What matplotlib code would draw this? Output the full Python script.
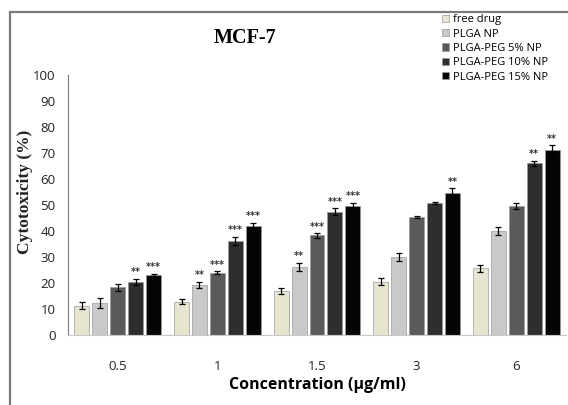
import numpy as np
import matplotlib
matplotlib.use('Agg')
import matplotlib.pyplot as plt
from matplotlib.patches import Rectangle

# data
concentrations = ['0.5', '1', '1.5', '3', '6']
series = ['free drug', 'PLGA NP', 'PLGA-PEG 5% NP', 'PLGA-PEG 10% NP', 'PLGA-PEG 15% NP']
free_drug = [11.3, 12.8, 16.9, 20.5, 25.6]
plga = [12.3, 19.2, 26.3, 29.9, 40.0]
peg5 = [18.3, 24.0, 38.3, 45.3, 49.5]
peg10 = [20.5, 36.3, 47.5, 50.7, 66.0]
peg15 = [23.0, 42.0, 49.8, 54.6, 71.0]
free_err = [1.4, 1.0, 1.2, 1.3, 1.3]
plga_err = [2.0, 1.3, 1.5, 1.5, 1.7]
peg5_err = [1.5, 0.5, 0.8, 0.3, 1.2]
peg10_err = [1.2, 1.5, 1.3, 0.4, 0.9]
peg15_err = [0.5, 1.2, 1.0, 1.8, 2.0]
free_sig = ['', '', '', '', '']
plga_sig = ['', '**', '**', '', '']
peg5_sig = ['', '***', '***', '', '']
peg10_sig = ['**', '***', '***', '', '**']
peg15_sig = ['***', '***', '***', '**', '**']

values = [free_drug, plga, peg5, peg10, peg15]
errors = [free_err, plga_err, peg5_err, peg10_err, peg15_err]
sigs = [free_sig, plga_sig, peg5_sig, peg10_sig, peg15_sig]
colors = ['#e7e4d0', '#c9c9c9', '#5a5a5a', '#2e2e2e', '#050505']

fig = plt.figure(figsize=(5.68, 4.05), dpi=100)
fig.patch.set_facecolor('white')

# outer frame of the original figure
fig.patches.append(Rectangle((10 / 568, -0.2), 1.2, 1.2 - 12 / 405,
                             transform=fig.transFigure, fill=False,
                             edgecolor='#7a7a7a', linewidth=1.6))

ax = fig.add_axes([68 / 568, 1 - 335 / 405, 498 / 568, 260 / 405])

x = np.arange(len(concentrations))
width = 0.15
step = 0.18
for i, name in enumerate(series):
    pos = x + (i - 2) * step
    ax.bar(pos, values[i], width, color=colors[i], edgecolor='#9a9a9a',
           linewidth=0.5, label=name, zorder=2)
    ax.errorbar(pos, values[i], yerr=errors[i], fmt='none', ecolor='black',
                elinewidth=0.9, capsize=2.5, capthick=0.9, zorder=3)
    for p, v, e, s in zip(pos, values[i], errors[i], sigs[i]):
        if s:
            ax.text(p, v + e + 0.6, s, ha='center', va='bottom',
                    fontsize=7, color='#333333', fontweight='bold')

ax.set_xlim(-0.5, len(concentrations) - 0.5)
ax.set_ylim(0, 100)
ax.set_yticks(range(0, 101, 10))
ax.set_xticks(x)
ax.set_xticklabels(concentrations)
ax.tick_params(axis='y', length=0, pad=9, labelsize=9.5, labelcolor='#222222')
ax.tick_params(axis='x', length=0, pad=18, labelsize=9.5, labelcolor='#222222')
for lab in ax.get_xticklabels() + ax.get_yticklabels():
    lab.set_family('Open Sans')

ax.spines['top'].set_visible(False)
ax.spines['right'].set_visible(False)
ax.spines['left'].set_color('#7a7a7a')
ax.spines['bottom'].set_color('#c8c8c8')

ax.set_xlabel('Concentration (µg/ml)', fontsize=11.5, fontweight='bold',
              family='Open Sans', labelpad=3)
fig.text(25 / 568, 1 - 192 / 405, 'Cytotoxicity (%)', rotation=90,
         ha='center', va='center', fontsize=12.5, fontweight='bold',
         family='Liberation Serif', color='#222222')
fig.text(245 / 568, 1 - 38 / 405, 'MCF-7', ha='center', va='center',
         fontsize=14.5, fontweight='bold', family='Liberation Serif')

leg = fig.legend(loc='upper left', bbox_to_anchor=(440 / 568, 1 - 12 / 405),
                 frameon=False, handlelength=0.6,
                 handleheight=0.6, handletextpad=0.35, labelspacing=0.3,
                 borderaxespad=0, borderpad=0.2, prop={'family': 'Open Sans', 'size': 8})

fig.savefig('out.png', dpi=100)
